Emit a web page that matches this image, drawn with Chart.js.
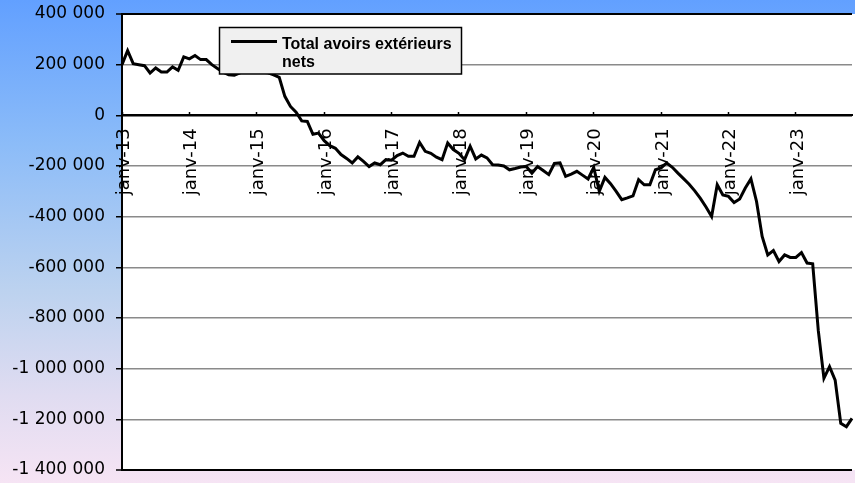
<!DOCTYPE html>
<html>
<head>
<meta charset="utf-8">
<script src="https://cdn.jsdelivr.net/npm/chart.js@4.4.1/dist/chart.umd.min.js"></script>
<style>
  html, body { margin: 0; padding: 0; }
  body {
    width: 855px;
    height: 483px;
    overflow: hidden;
    background: linear-gradient(180deg, #62a0ff 0%, #8cbcf8 30%, #bcd2ef 60%, #e0dcf1 82%, #f6e4f4 100%);
  }
  canvas { display: block; }
</style>
</head>
<body>
<canvas id="avoirsChart" width="855" height="483"></canvas>
<script>
// monthly net foreign assets, janv-13 .. nov-23
const monthNames = ["janv", "févr", "mars", "avr", "mai", "juin", "juil", "août", "sept", "oct", "nov", "déc"];
const years = ["13", "14", "15", "16", "17", "18", "19", "20", "21", "22", "23"];

const avoirs2013 = [200000, 255000, 204000, 200000, 196000, 167000, 187000, 171000, 171000, 191000, 178000, 231000];
const avoirs2014 = [223000, 236000, 220000, 220000, 200000, 185000, 170000, 160000, 158000, 168000, 178000, 182000];
const avoirs2015 = [176000, 170000, 168000, 160000, 150000, 75000, 35000, 12000, -22000, -24000, -75000, -70000];
const avoirs2016 = [-100000, -120000, -130000, -155000, -170000, -188000, -164000, -182000, -202000, -188000, -195000, -175000];
const avoirs2017 = [-177000, -159000, -149000, -162000, -162000, -107000, -142000, -150000, -165000, -175000, -109000, -135000];
const avoirs2018 = [-150000, -175000, -122000, -172000, -157000, -168000, -195000, -196000, -200000, -215000, -210000, -204000];
const avoirs2019 = [-202000, -228000, -202000, -218000, -234000, -190000, -188000, -241000, -232000, -221000, -236000, -251000];
const avoirs2020 = [-206000, -300000, -245000, -270000, -300000, -333000, -326000, -318000, -254000, -274000, -274000, -215000];
const avoirs2021 = [-208000, -188000, -205000, -228000, -250000, -272000, -298000, -328000, -362000, -399000, -274000, -314000];
const avoirs2022 = [-320000, -344000, -330000, -287000, -251000, -340000, -478000, -551000, -534000, -577000, -551000, -561000];
const avoirs2023 = [-561000, -542000, -583000, -586000, -850000, -1038000, -992000, -1045000, -1216000, -1229000, -1196000];

const seriesLabel = "Total avoirs extérieurs nets";

const yTicksMin = -1400000;
const yTicksMax = 400000;
const yTicksStep = 200000;

const values = [].concat(
    avoirs2013, avoirs2014, avoirs2015, avoirs2016, avoirs2017, avoirs2018,
    avoirs2019, avoirs2020, avoirs2021, avoirs2022, avoirs2023
);

const labels = [];
years.forEach(y => {
    monthNames.forEach(m => labels.push(m + "-" + y));
});
labels.length = values.length;

function formatThousands(v) {
    const s = String(Math.abs(v)).replace(/\B(?=(\d{3})+(?!\d))/g, " ");
    return (v < 0 ? "-" : "") + s;
}

// keep the plot box where the original has it, labels may overflow
function noScalePadding(scale) {
    scale.paddingLeft = 0;
    scale.paddingRight = 0;
    scale.paddingTop = 0;
    scale.paddingBottom = 0;
}

const plotBackground = {
    id: "plotBackground",
    beforeDraw(chart) {
        const a = chart.chartArea;
        const ctx = chart.ctx;
        ctx.save();
        ctx.fillStyle = "#ffffff";
        ctx.fillRect(a.left, a.top, chart.width - a.left, a.bottom - a.top);
        ctx.restore();
    }
};

// legend box drawn by hand so the label can wrap on two lines like the original
const boxLegend = {
    id: "boxLegend",
    afterDraw(chart) {
        const ctx = chart.ctx;
        const ds = chart.data.datasets[0];
        ctx.save();
        ctx.fillStyle = "#f0f0f0";
        ctx.strokeStyle = "#000";
        ctx.lineWidth = 1.5;
        ctx.fillRect(219.5, 27.5, 242, 46.5);
        ctx.strokeRect(219.5, 27.5, 242, 46.5);

        ctx.strokeStyle = ds.borderColor;
        ctx.lineWidth = 3;
        ctx.beginPath();
        ctx.moveTo(231, 41.5);
        ctx.lineTo(277, 41.5);
        ctx.stroke();

        ctx.fillStyle = "#000";
        ctx.font = "bold 16px 'Liberation Sans', Arial, sans-serif";
        ctx.textBaseline = "alphabetic";
        const words = ds.label.split(" ");
        const lines = [];
        let cur = "";
        words.forEach(w => {
            const t = cur ? cur + " " + w : w;
            if (ctx.measureText(t).width > 178 && cur) {
                lines.push(cur);
                cur = w;
            } else {
                cur = t;
            }
        });
        lines.push(cur);
        lines.forEach((line, i) => {
            ctx.fillText(line, 282, 48.5 + i * 18.5);
        });
        ctx.restore();
    }
};

const ctx = document.getElementById("avoirsChart").getContext("2d");

new Chart(ctx, {
    type: "line",
    data: {
        labels: labels,
        datasets: [
            {
                label: seriesLabel,
                data: values,
                borderColor: "#000000",
                borderWidth: 3,
                pointRadius: 0,
                tension: 0,
                fill: false
            }
        ]
    },
    options: {
        responsive: false,
        animation: false,
        devicePixelRatio: 1,
        layout: {
            padding: { left: 0, top: 14, right: 3, bottom: 13 }
        },
        plugins: {
            legend: { display: false },
            tooltip: { enabled: false }
        },
        scales: {
            x: {
                type: "category",
                position: { y: 0 },
                afterFit: noScalePadding,
                grid: {
                    drawOnChartArea: false,
                    drawTicks: true,
                    tickLength: -4,
                    tickWidth: 1.5,
                    tickColor: c => (c.index % 12 === 0 ? "#000" : "rgba(0,0,0,0)")
                },
                border: { display: true, color: "#000", width: 2 },
                ticks: {
                    autoSkip: false,
                    minRotation: 90,
                    maxRotation: 90,
                    padding: 17,
                    labelOffset: 2,
                    color: "#000",
                    font: { family: "'DejaVu Sans'", size: 18 },
                    callback: function (value, index) {
                        return index % 12 === 0 ? this.getLabelForValue(value) : "";
                    }
                }
            },
            y: {
                min: yTicksMin,
                max: yTicksMax,
                afterFit: scale => {
                    scale.width = 122;
                    noScalePadding(scale);
                },
                grid: {
                    color: c => {
                        const v = c.tick ? c.tick.value : null;
                        return (v === 0 || v === yTicksMin || v === yTicksMax) ? "#000" : "#8a8a8a";
                    },
                    lineWidth: c => {
                        const v = c.tick ? c.tick.value : null;
                        return (v === yTicksMin || v === yTicksMax) ? 2 : 1.5;
                    },
                    tickColor: "#000",
                    tickLength: 6,
                    tickWidth: 1.5
                },
                border: { display: true, color: "#000", width: 2 },
                ticks: {
                    stepSize: yTicksStep,
                    padding: 11,
                    color: "#000",
                    font: { family: "'DejaVu Sans'", size: 17 },
                    callback: v => formatThousands(v)
                }
            }
        }
    },
    plugins: [plotBackground, boxLegend]
});
</script>
</body>
</html>
